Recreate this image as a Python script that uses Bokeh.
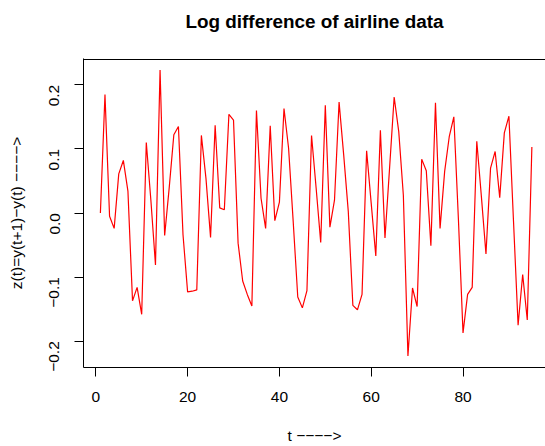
import math
from bokeh.plotting import figure
from bokeh.models import Range1d, FixedTicker, LinearAxis, Span
from bokeh.embed import file_html
from bokeh.resources import INLINE

t = list(range(1, 96))
z = [0.000, 0.185, -0.005, -0.024, 0.061, 0.082, 0.034, -0.137, -0.116, -0.158,
     0.110, 0.020, -0.081, 0.223, -0.035, 0.040, 0.122, 0.135, -0.034, -0.123,
     -0.122, -0.120, 0.121, 0.054, -0.038, 0.137, 0.008, 0.005, 0.154, 0.145,
     -0.047, -0.106, -0.127, -0.145, 0.160, 0.023, -0.024, 0.136, -0.012, 0.017,
     0.163, 0.101, -0.013, -0.131, -0.148, -0.121, 0.121, 0.039, -0.046, 0.168,
     -0.022, 0.020, 0.173, 0.091, 0.003, -0.144, -0.151, -0.127, 0.097, 0.015,
     -0.067, 0.129, -0.039, 0.070, 0.181, 0.127, 0.028, -0.223, -0.117, -0.146,
     0.084, 0.066, -0.051, 0.172, -0.024, 0.065, 0.119, 0.150, -0.010, -0.187,
     -0.127, -0.116, 0.112, 0.026, -0.064, 0.070, 0.096, 0.024, 0.125, 0.151,
     -0.013, -0.175, -0.096, -0.167, 0.103]

x_ticks = [0, 20, 40, 60, 80]
y_ticks = [-0.2, -0.1, 0.0, 0.1, 0.2]
y_tick_labels = ["\u22120.2", "\u22120.1", "0.0", "0.1", "0.2"]
title_text = "Log difference of airline data"
x_label = "t \u2212\u2212\u2212\u2212>"
y_label = "z(t)=y(t+1)\u2212y(t) \u2212\u2212\u2212\u2212>"

FONT = "Liberation Sans"

H, TOP, BOTTOM = 446, 58, 78
y0, y1 = -0.241, 0.241

p = figure(width=545, height=H, output_backend="svg", toolbar_location=None,
           x_range=Range1d(-2.68, 97.97), y_range=Range1d(y0, y1),
           min_border_left=83, min_border_right=0, min_border_top=TOP,
           min_border_bottom=BOTTOM)
p.outline_line_color = None
p.grid.visible = False
p.background_fill_color = "white"
p.border_fill_color = "white"

p.line(t, z, color="red", line_width=1.2)

# top side of the plot box (just inside the frame)
py_per = (H - TOP - BOTTOM) / (y1 - y0)
p.add_layout(Span(location=y1 - 1.0 / py_per, dimension="width",
                  line_color="black", line_width=1.2))

xa = p.xaxis[0]
xa.ticker = FixedTicker(ticks=x_ticks)
xa.axis_label = x_label
ya = p.yaxis[0]
ya.ticker = FixedTicker(ticks=y_ticks)
ya.major_label_overrides = {v: s for v, s in zip(y_ticks, y_tick_labels)}
ya.axis_label = y_label
ya.major_label_orientation = math.pi / 2

for ax in (xa, ya):
    ax.minor_tick_line_color = None
    ax.major_tick_in = 0
    ax.major_tick_out = 9
    ax.axis_line_color = "black"
    ax.major_tick_line_color = "black"
    ax.major_label_text_font = FONT
    ax.major_label_text_font_size = "15.5px"
    ax.major_label_text_color = "black"
    ax.axis_label_text_font = FONT
    ax.axis_label_text_font_size = "15.5px"
    ax.axis_label_text_font_style = "normal"
    ax.axis_label_text_color = "black"

xa.major_label_standoff = 15
xa.axis_label_standoff = 22
xa.axis_label_text_line_height = 0.6
ya.major_label_standoff = 20
ya.axis_label_standoff = 17

# chart title carried as the label of a line-less top axis
top_title = LinearAxis(ticker=FixedTicker(ticks=[]), axis_line_color=None,
                       major_tick_line_color=None, minor_tick_line_color=None,
                       major_tick_out=0, major_tick_in=0, major_label_standoff=0,
                       axis_label=title_text, axis_label_standoff=27,
                       axis_label_text_font=FONT, axis_label_text_font_size="18.9px",
                       axis_label_text_font_style="bold", axis_label_text_color="black")
p.add_layout(top_title, "above")

open("out.html", "w").write(file_html(p, INLINE))
